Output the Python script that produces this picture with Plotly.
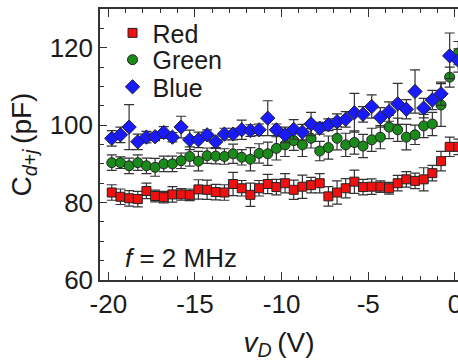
import plotly.graph_objects as go

# ---- data ----
v_d = [-19.8, -19.3, -18.8, -18.3, -17.8, -17.3, -16.8, -16.3, -15.8, -15.3,
       -14.8, -14.3, -13.8, -13.3, -12.8, -12.3, -11.8, -11.3, -10.8, -10.3,
       -9.8, -9.3, -8.8, -8.3, -7.8, -7.3, -6.8, -6.3, -5.8, -5.3,
       -4.8, -4.3, -3.8, -3.3, -2.8, -2.3, -1.8, -1.3, -0.8, -0.3, 0.2]

red = [82.6, 81.5, 81.1, 80.9, 83.0, 81.7, 81.4, 82.1, 82.1, 82.0,
       83.4, 83.3, 82.7, 82.6, 84.8, 83.7, 82.0, 83.7, 84.8, 84.0,
       85.0, 83.3, 84.1, 84.5, 85.0, 81.6, 82.6, 83.7, 85.4, 84.0,
       84.1, 84.1, 83.7, 85.0, 86.0, 85.6, 86.0, 87.6, 90.7, 94.4, 94.4]
red_err = [2, 2, 2, 2, 2, 1.5, 1.5, 2, 1.5, 1.5,
           2.5, 2.5, 2, 2, 3, 2, 3, 2, 2.5, 2,
           2.5, 2.5, 3, 2, 2.5, 2.5, 3, 2.5, 3, 2,
           2, 1.5, 1.5, 2, 2, 2, 3, 2, 2.5, 2.5, 2]

green = [90.3, 90.3, 89.5, 90.3, 89.5, 89.1, 90.0, 90.0, 90.8, 91.9,
         90.7, 92.1, 92.0, 91.9, 92.6, 91.7, 91.2, 92.7, 92.6, 94.0,
         94.9, 96.0, 94.9, 96.6, 93.3, 94.2, 96.6, 94.9, 95.5, 94.6,
         96.2, 96.9, 99.5, 98.8, 96.9, 97.5, 99.8, 100.3, 105.2, 112.4, 118.6]
green_err = [2, 1.5, 2, 2, 2, 2.3, 2, 2, 2, 2.5,
             2.5, 2, 2, 2, 2.5, 2, 3, 2.5, 3, 3,
             3, 2.5, 3, 2.5, 2.5, 3, 3, 3, 3, 3,
             3, 3, 3, 3, 3.3, 2.5, 3, 3, 5.5, 2.6, 3]

blue = [96.6, 97.5, 99.5, 95.7, 96.9, 97.0, 98.1, 96.9, 99.5, 96.2,
        96.2, 97.5, 95.7, 97.7, 97.7, 98.8, 98.6, 98.8, 101.8, 98.8,
        97.5, 98.9, 98.2, 100.3, 99.2, 100.1, 100.9, 101.5, 103.2, 102.8,
        104.8, 102.0, 103.5, 105.5, 104.1, 108.7, 104.4, 106.5, 108.1, 117.9, 116.7]
blue_err = [2, 2, 5.8, 2, 1.5, 1, 1.5, 1.2, 2.8, 2.5,
            2, 1.3, 1.5, 1.5, 1.5, 2.5, 1.5, 1.5, 4.5, 1.5,
            2, 2.5, 2, 3, 1.5, 1.5, 2, 2, 5, 2,
            3, 2.5, 2.5, 5.3, 2.5, 5.6, 2.5, 2.5, 3, 5.9, 3]

x_tick_vals = [-20, -15, -10, -5, 0]
x_tick_text = ["-20", "-15", "-10", "-5", "0"]
y_tick_vals = [60, 80, 100, 120]
y_tick_text = ["60", "80", "100", "120"]

FONT = "Liberation Sans, Arial, sans-serif"
TXT = "#1a1a1a"
EDGE = "#222222"

series = [
    ("Red", red, red_err, "square", "#f01010", 9, "legend"),
    ("Green", green, green_err, "circle", "#1a8a1a", 10, "legend2"),
    ("Blue", blue, blue_err, "diamond", "#1a1aff", 11, "legend3"),
]

fig = go.Figure()
for name, ys, es, sym, col, sz, lg in series:
    fig.add_trace(go.Scatter(
        x=v_d, y=ys, mode="markers", name=name, legend=lg,
        marker=dict(symbol=sym, size=sz, color=col,
                    line=dict(color=EDGE, width=1)),
        error_y=dict(type="data", array=es, visible=True,
                     color="#333333", thickness=1.2, width=5),
    ))

axis_common = dict(
    showgrid=False, zeroline=False, showline=True,
    linecolor="#333333", linewidth=1.5,
    ticks="inside", tickcolor="#333333", tickwidth=1.2,
    tickfont=dict(family=FONT, size=26, color=TXT),
    automargin=False,
)

fig.update_layout(
    width=458, height=362,
    margin=dict(l=100, r=0, t=9, b=82),
    paper_bgcolor="white", plot_bgcolor="white",
    font=dict(family=FONT, color=TXT),
    xaxis=dict(
        **axis_common,
        range=[-20.48, 0.18],
        tickvals=x_tick_vals, ticktext=x_tick_text,
        ticklen=8, mirror="ticks",
        minor=dict(dtick=1, tick0=0, ticks="inside", ticklen=4,
                   tickcolor="#333333", tickwidth=1.2, showgrid=False),
        ticklabeloverflow="allow",
        title=dict(text="<i>v</i><sub><i>D</i></sub>\u2009(V)",
                   font=dict(family=FONT, size=28, color=TXT), standoff=14),
    ),
    yaxis=dict(
        **axis_common,
        range=[60, 130],
        tickvals=y_tick_vals, ticktext=y_tick_text,
        ticklen=7, mirror=False,
        minor=dict(dtick=5, tick0=60, ticks="inside", ticklen=4,
                   tickcolor="#333333", tickwidth=1.2, showgrid=False),
        title=dict(text="C<sub><i>d</i>+<i>j</i></sub>\u2009(pF)",
                   font=dict(family=FONT, size=28, color=TXT), standoff=10),
    ),
    showlegend=True,
)

leg_common = dict(xanchor="left", yanchor="middle", bgcolor="rgba(0,0,0,0)",
                  font=dict(family=FONT, size=25, color=TXT),
                  borderwidth=0)
fig.update_layout(
    legend=dict(**leg_common, x=0.035, y=0.911),
    legend2=dict(**leg_common, x=0.035, y=0.812),
    legend3=dict(**leg_common, x=0.035, y=0.712),
)

fig.add_annotation(
    text="<i>f</i> = 2 MHz", xref="paper", yref="paper",
    x=0.064, y=0.081, xanchor="left", yanchor="middle", showarrow=False,
    font=dict(family=FONT, size=26, color=TXT),
)

fig.write_html("out.html")
